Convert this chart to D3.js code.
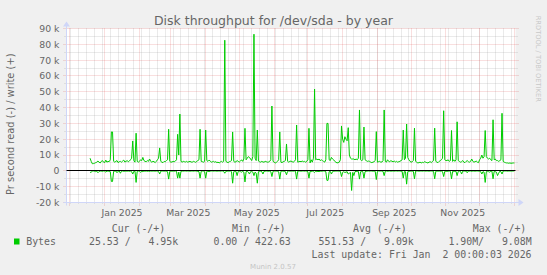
<!DOCTYPE html>
<html><head><meta charset="utf-8">
<script src="https://cdn.jsdelivr.net/npm/d3@7"></script>
<style>
html,body{margin:0;padding:0;background:#F0F0F0;}
svg{display:block;}
text{font-family:"DejaVu Sans",sans-serif;fill:#666666;}
.mono{font-family:"DejaVu Sans Mono",monospace;white-space:pre;}
</style></head><body>
<svg id="c" width="547" height="275"></svg>
<script>
// ---------- data ----------
const title = "Disk throughput for /dev/sda - by year";
const yLabel = "Pr second read (-) / write (+)";
const sideText = "RRDTOOL / TOBI OETIKER";
const watermark = "Munin 2.0.57";
const rangeStart = "2024-11-28";
const rangeEnd = "2026-01-02";
const firstDay = "2024-12-19";
const yTickValues = [-20000,-10000,0,10000,20000,30000,40000,50000,60000,70000,80000,90000];
const yTickLabels = ["-20 k","-10 k","0","10 k","20 k","30 k","40 k","50 k","60 k","70 k","80 k","90 k"];
const monthLabelStarts = ["2025-01-01","2025-03-01","2025-05-01","2025-07-01","2025-09-01","2025-11-01"];
const monthLabels = ["Jan 2025","Mar 2025","May 2025","Jul 2025","Sep 2025","Nov 2025"];
// daily write (+) values, thousands of bytes/s
const writeK = [
 8,6,4.5,4.6,4.8,5.2,5.5,6.2,5.5,5,6,6.5,5.5,5.2,6.8,5.5,6,5.8,7,24.6,
 24.6,6,5.5,6,6.5,5.2,5.8,6,5.5,6.2,6.8,5.6,6,6.5,5.8,6.2,7,8,18.9,6.5,
 5.5,23.8,6,5.5,6,7,6.5,8.5,6.5,6,5.8,6.5,6,7.5,6,5.5,6,5.8,5.2,6,
 7,8,14.5,6,5.5,5.2,6,5.8,6.5,7,26.3,6,5.5,5.6,6,5.8,6.2,7,23.1,10,
 35.9,6,5.5,6,5.8,5.6,6,5.5,5.8,6,5.6,5.5,6,5.8,5.4,6,6.5,7,26.3,6,
 5.8,5.5,6,25.8,6.5,6,6.8,6.2,5.5,5.8,6,5.5,5.8,5.2,5.5,5,5.6,6,5.5,6,
 82.6,6,5.5,5.2,5.8,6,6.5,24.6,6,5.5,5.8,6.5,6,5.6,6.2,7,6,7.5,26.9,7,
 8,9,8.5,7.5,6.5,9,86.4,8,6.5,25.8,6.2,5.8,5.5,6,5.6,5.5,6,5.8,5.5,5.6,
 6,7,41,6,5.5,5,5.4,6,7,24.6,5.5,5.2,5.8,6,6.5,17,6,5.5,6,6.2,
 5.8,5.5,6,7,29,5.5,5.8,6,5.8,6.2,5.8,6,5.5,6,7,26.9,5,7,5.5,8,
 51.7,7,7.5,7,7.5,6.5,7,6.5,6,5.5,7,30,30,7,6.5,8.5,7.5,7,6,5.5,
 5,5.2,5.5,7,28.4,20,18,21.6,20,19,27.3,10,8,7.5,7.5,7.5,7,7.5,7,8,
 38.5,7,6.5,7,27.7,7,6.5,6,6.2,6,5.5,5.2,5.5,5.8,6.5,24.8,5.5,5.8,6,5.5,
 5.6,6.5,38.5,6,5.5,7,6,5.8,6.5,6,5.8,6.2,5.6,6,5.5,5.8,6,6.5,7,25.8,
 7,8,29.6,8.5,7,6,5.5,5.8,6.5,27,6,5.5,5,5.2,5.5,5,5.4,5.2,5.8,5.5,
 5.2,5,5.5,5.8,5.2,6,6.5,27,6,5.5,5.2,6,6.5,7,8,38,7,6.5,6.5,7,
 6,6.5,25.5,6,7,6,7,31,6.5,6,5.5,5.8,6.5,5.5,5.2,6,6.5,5.8,5.5,6,
 7.5,6,5.5,5.8,6.2,5.5,5.2,7,8,10,8,9,25.5,9,8,7.5,8,7,6.5,32.3,
 7,7.5,6.5,6.5,6,6.5,7,36.4,6,5.5,5.2,5,5,4.8,5,4.8,4.9,5,4.95
];
// daily read (-) values, thousands of bytes/s
const readK = [
 1,0.8,0.2,0.1,0.3,0.5,0.2,1.2,0.4,0.1,0.2,0.3,0.1,0.2,0.8,0.2,0.1,0.3,0.5,6.7,
 6.7,0.3,0.2,0.1,1.2,0.2,0.1,1.5,0.2,0.1,0.3,0.2,0.1,0.2,0.1,0.3,0.2,0.5,2,0.3,
 0.2,7.3,0.3,0.1,0.2,1,0.2,0.5,0.1,0.2,0.1,0.3,0.2,0.4,0.1,0.2,0.1,0.1,0.2,0.1,
 0.2,0.4,2,0.2,0.1,0.1,0.2,0.1,0.3,0.5,5.2,0.3,0.1,0.2,0.1,0.2,0.1,0.3,4.6,0.8,
 4.6,0.3,0.1,0.2,0.1,0.1,0.2,0.1,0.1,0.2,0.1,0.1,0.2,0.1,0.1,0.2,0.3,0.5,4.6,0.3,
 0.1,0.2,0.5,4.6,0.3,0.2,0.5,0.2,0.1,0.1,0.2,0.1,0.1,0.2,0.1,0.1,0.2,0.1,0.1,0.3,
 1.5,0.3,0.2,0.1,0.2,0.1,0.5,7.8,0.5,0.2,0.3,3,0.3,0.2,0.5,0.8,0.3,0.8,7,0.5,
 0.3,0.8,2,0.5,0.3,0.8,3,0.8,1.5,7.8,0.5,0.3,0.2,0.5,2,0.3,0.2,0.1,0.2,0.3,
 0.2,0.5,3.6,0.3,0.1,0.1,0.2,0.3,0.5,5.2,0.3,0.1,0.2,0.3,0.5,2.5,0.3,0.1,0.2,0.1,
 0.1,0.2,0.1,0.3,5.2,0.2,0.1,0.1,0.2,0.1,0.1,0.2,0.1,0.2,0.5,4.6,0.3,0.5,0.2,0.5,
 1,0.3,0.5,0.3,0.5,0.2,0.3,0.2,0.1,0.2,0.5,6,6,0.5,0.3,2,0.5,0.3,0.2,0.1,
 0.1,0.1,0.2,0.3,3.6,1,0.5,1,0.8,0.5,2,1.5,1,12.4,1,3,0.5,0.3,0.5,0.3,
 5.2,0.5,0.3,0.5,4.6,0.5,0.3,0.2,0.1,0.2,0.1,0.1,0.2,0.1,0.3,5.5,0.3,0.1,0.2,0.1,
 0.1,0.3,3,0.2,0.1,0.3,0.2,0.1,0.2,0.1,0.1,0.2,0.1,0.1,0.2,0.1,0.1,0.2,0.3,4.6,
 0.3,0.5,8.4,0.5,0.3,0.2,0.1,0.2,0.3,5,0.2,0.1,0.1,0.2,0.1,0.1,0.2,0.1,0.1,0.2,
 0.1,0.1,0.2,0.1,0.1,0.2,0.3,5,0.3,0.1,0.2,0.1,0.3,0.2,0.5,3.6,0.3,0.2,0.3,0.2,
 0.1,0.3,5,0.3,0.5,0.2,0.3,3,0.3,0.2,0.3,2,0.2,0.1,0.1,0.2,1.2,0.1,0.2,0.1,
 0.3,0.1,0.1,0.2,0.1,0.1,0.2,0.3,0.5,2,0.5,0.8,7.3,0.5,0.3,0.5,0.8,0.3,0.2,5,
 0.3,0.5,0.8,3,1.5,0.2,0.5,2,0.2,0.1,0.1,0.1,0.2,0.1,0.1,0.1,0.1,0.1,0.03
];
const seriesName = "Bytes";
const seriesColor = "#00CC00";
const legendHeaders = ["Cur (-/+)","Min (-/+)","Avg (-/+)","Max (-/+)"];
const legendValues = ["25.53 /   4.95k","0.00 / 422.63","551.53 /   9.09k","1.90M/   9.08M"];
const lastUpdate = "Last update: Fri Jan  2 00:00:03 2026";

// ---------- drawing ----------
const svg = d3.select("#c");
const P = {l:66.5, r:515.5, t:28.5, b:202.5};
const parse = d3.utcParse("%Y-%m-%d");
const x = d3.scaleUtc().domain([parse(rangeStart), parse(rangeEnd)]).range([P.l, P.r]);
const y = d3.scaleLinear().domain([-20000, 90000]).range([P.b, P.t]);
const crisp = v => Math.floor(v) + 0.5;

svg.append("rect").attr("width",547).attr("height",275).attr("fill","#F0F0F0");
svg.append("rect").attr("x",P.l).attr("y",P.t).attr("width",P.r-P.l).attr("height",P.b-P.t).attr("fill","#FFFFFF");

const minorCol = "rgba(143,143,143,0.38)", majorCol = "rgba(222,79,79,0.36)";
const g = svg.append("g");
// horizontal minor grid (5k)
const yMinor = d3.range(-15000, 90000, 10000);
g.selectAll(".hm").data(yMinor).enter().append("line")
  .attr("x1",P.l-2).attr("x2",P.r+2).attr("y1",d=>crisp(y(d))).attr("y2",d=>crisp(y(d)))
  .attr("stroke",minorCol).attr("stroke-dasharray","1,1");
// vertical minor grid (weekly)
const weeks = d3.utcMonday.range(x.domain()[0], x.domain()[1]);
g.selectAll(".vm").data(weeks).enter().append("line")
  .attr("x1",d=>crisp(x(d))).attr("x2",d=>crisp(x(d))).attr("y1",P.t).attr("y2",P.b+2)
  .attr("stroke",minorCol).attr("stroke-dasharray","1,1");
// horizontal major grid
g.selectAll(".hM").data(yTickValues).enter().append("line")
  .attr("x1",P.l-3).attr("x2",P.r+3).attr("y1",d=>crisp(y(d))).attr("y2",d=>crisp(y(d)))
  .attr("stroke",majorCol).attr("stroke-dasharray","1,1");
// vertical major grid (month starts)
const months = d3.utcMonth.range(x.domain()[0], d3.utcDay.offset(x.domain()[1],1));
g.selectAll(".vM").data(months).enter().append("line")
  .attr("x1",d=>crisp(x(d))).attr("x2",d=>crisp(x(d))).attr("y1",P.t).attr("y2",P.b+3)
  .attr("stroke",majorCol).attr("stroke-dasharray","1,1");

// axes
const axisCol = "#CFD6F8";
svg.append("line").attr("x1",P.l-3).attr("x2",P.r+4).attr("y1",crisp(P.b)).attr("y2",crisp(P.b)).attr("stroke",axisCol);
svg.append("line").attr("x1",P.l).attr("x2",P.l).attr("y1",P.b+3).attr("y2",P.t-4).attr("stroke",axisCol);
svg.append("path").attr("d",`M${P.r+3},${P.b-3.5}L${P.r+8},${P.b}L${P.r+3},${P.b+3.5}Z`).attr("fill",axisCol);
svg.append("path").attr("d",`M${P.l-3.5},${P.t-2}L${P.l},${P.t-7}L${P.l+3.5},${P.t-2}Z`).attr("fill",axisCol);

// data lines
const day0 = parse(firstDay);
const wData = writeK.map((v,i)=>({t:d3.utcDay.offset(day0,i), v:v*1000}));
const rData = readK.map((v,i)=>({t:d3.utcDay.offset(day0,i), v:-v*1000}));
const line = d3.line().x(d=>x(d.t)).y(d=>y(d.v));
svg.append("path").datum(rData).attr("d",line).attr("fill","none").attr("stroke",seriesColor).attr("stroke-width",1);
svg.append("path").datum(wData).attr("d",line).attr("fill","none").attr("stroke",seriesColor).attr("stroke-width",1);
// zero rule
svg.append("line").attr("x1",P.l).attr("x2",P.r).attr("y1",crisp(y(0))).attr("y2",crisp(y(0))).attr("stroke","#000").attr("stroke-width",1);

// y tick labels
svg.selectAll(".yl").data(yTickValues).enter().append("text")
  .attr("x",59.5).attr("y",(d)=>y(d)+3.4).attr("text-anchor","end")
  .style("font-size","9.3px").text((d,i)=>yTickLabels[i]);
// x labels centered in month
svg.selectAll(".xl").data(monthLabelStarts).enter().append("text")
  .attr("x",d=>{const s=parse(d); return (x(s)+x(d3.utcMonth.offset(s,1)))/2;})
  .attr("y",216.4).attr("text-anchor","middle").style("font-size","9.3px")
  .text((d,i)=>monthLabels[i]);

// title
svg.append("text").attr("x",273.5).attr("y",25).attr("text-anchor","middle")
  .style("font-size","12.5px").text(title);
// y label
svg.append("text").attr("transform","translate(14.3,124.2) rotate(-90)")
  .attr("text-anchor","middle").style("font-size","9.9px").text(yLabel);
// side text
svg.append("text").attr("transform","translate(535.5,15.7) rotate(90)")
  .style("font-size","6.7px").style("fill","#C8C8C8").text(sideText);

// legend
const hx = [111.7,232,353.1,472.8];
svg.selectAll(".lh").data(legendHeaders).enter().append("text").attr("class","mono")
  .attr("x",(d,i)=>hx[i]).attr("y",232.1).style("font-size","9.9px").text(d=>d);
svg.append("rect").attr("x",14).attr("y",238.5).attr("width",5.5).attr("height",6).attr("fill",seriesColor);
svg.append("text").attr("class","mono").attr("x",26.2).attr("y",245.4).style("font-size","9.9px").text(seriesName);
const vx = [89,213.5,318.6,448.4];
svg.selectAll(".lv").data(legendValues).enter().append("text").attr("class","mono")
  .attr("x",(d,i)=>vx[i]).attr("y",245.4).style("font-size","9.9px").text(d=>d);
svg.append("text").attr("class","mono").attr("x",311.6).attr("y",257.6).style("font-size","9.9px").text(lastUpdate);
svg.append("text").attr("x",273).attr("y",268.7).attr("text-anchor","middle")
  .style("font-size","7px").style("fill","#C4C4C4").text(watermark);
</script>
</body></html>
